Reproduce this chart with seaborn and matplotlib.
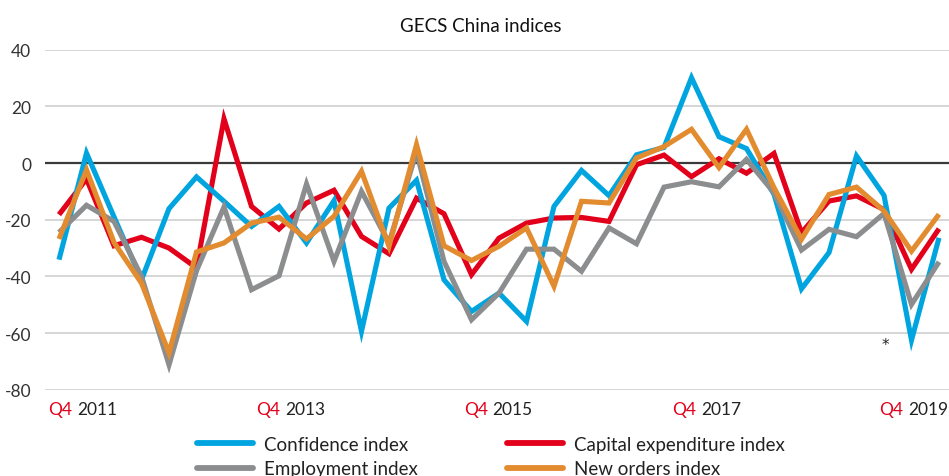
import matplotlib
matplotlib.use("Agg")
import matplotlib.pyplot as plt
import seaborn as sns
import pandas as pd
import numpy as np
from matplotlib.lines import Line2D

# ---------------- data ----------------
quarters = ["Q4 2011",
            "Q1 2012", "Q2 2012", "Q3 2012", "Q4 2012",
            "Q1 2013", "Q2 2013", "Q3 2013", "Q4 2013",
            "Q1 2014", "Q2 2014", "Q3 2014", "Q4 2014",
            "Q1 2015", "Q2 2015", "Q3 2015", "Q4 2015",
            "Q1 2016", "Q2 2016", "Q3 2016", "Q4 2016",
            "Q1 2017", "Q2 2017", "Q3 2017", "Q4 2017",
            "Q1 2018", "Q2 2018", "Q3 2018", "Q4 2018",
            "Q1 2019", "Q2 2019", "Q3 2019", "Q4 2019"]

confidence = [-34.1, 3.5, -19.0, -41.2, -16.1, -4.9, -13.5, -22.4, -15.3, -28.2, -13.3,
              -59.4, -15.9, -6.1, -41.2, -52.4, -45.9, -55.9, -15.3, -2.6, -11.5, 2.9,
              5.5, 30.1, 9.3, 5.1, -11.0, -44.4, -31.6, 2.5, -11.4, -62.5, -26.4]
capex = [-18.2, -5.6, -29.2, -26.2, -30.0, -37.0, 15.6, -15.3, -23.3, -14.1, -9.6,
         -25.9, -32.0, -12.4, -17.9, -39.4, -26.5, -21.2, -19.4, -19.2, -20.6, -0.6,
         2.8, -4.8, 1.5, -3.6, 3.4, -24.6, -13.4, -11.6, -16.4, -37.5, -23.2]
employment = [-24.5, -14.9, -20.6, -40.0, -71.2, -38.0, -15.5, -44.7, -39.8, -7.4, -34.7,
              -10.0, -28.2, 4.0, -34.7, -55.3, -45.9, -30.4, -30.4, -38.2, -22.9, -28.5,
              -8.5, -6.6, -8.4, 1.3, -10.5, -30.7, -23.4, -26.0, -17.8, -49.9, -34.9]
new_orders = [-26.8, -2.4, -28.0, -42.4, -67.0, -31.4, -28.2, -21.2, -19.1, -26.8, -18.8,
              -2.9, -29.4, 6.5, -29.2, -34.4, -29.4, -22.9, -43.5, -13.5, -14.1, 1.8,
              5.8, 11.9, -1.6, 11.9, -8.7, -26.9, -11.1, -8.5, -16.9, -31.1, -18.1]

series_names = ["Confidence index", "Capital expenditure index",
                "Employment index", "New orders index"]
series_values = [confidence, capex, employment, new_orders]

xtick_labels = ["Q4 2011", "Q4 2013", "Q4 2015", "Q4 2017", "Q4 2019"]
yticks = [40, 20, 0, -20, -40, -60, -80]

# ---------------- style ----------------
colors = {"Confidence index": "#00A5E0",
          "Capital expenditure index": "#E2001A",
          "Employment index": "#8B8D8F",
          "New orders index": "#E38B2F"}
draw_order = ["Capital expenditure index", "Confidence index",
              "Employment index", "New orders index"]

sns.set_theme(style="white")
plt.rcParams["font.family"] = ["Lato", "DejaVu Sans"]

W, H = 949, 477
fig = plt.figure(figsize=(W / 100, H / 100), dpi=100)
ax_left, ax_right = 45, 949
ax_top, ax_bot = 50.7, 390.7
ax = fig.add_axes([ax_left / W, 1 - ax_bot / H, (ax_right - ax_left) / W, (ax_bot - ax_top) / H])

rows = []
for name, vals in zip(series_names, series_values):
    for i, (q, v) in enumerate(zip(quarters, vals)):
        rows.append({"idx": i, "quarter": q, "series": name, "value": v})
df = pd.DataFrame(rows)

# gridlines
for yv in yticks:
    if yv == 0:
        ax.axhline(0, color="#3a3a3a", lw=1.6, zorder=2)
    else:
        ax.axhline(yv, color="#cfcfcf", lw=1.2, zorder=1)

for k, name in enumerate(draw_order):
    sns.lineplot(data=df[df["series"] == name], x="idx", y="value",
                 color=colors[name], lw=3.7, ax=ax, legend=False,
                 zorder=3 + k, solid_joinstyle="miter", solid_capstyle="butt")

px = 27.5  # pixels per quarter
x0 = 59.0
ax.set_xlim((ax_left - x0) / px, (ax_right - x0) / px)
ax.set_ylim(-80, 40)
ax.set_yticks(yticks)
ax.set_yticklabels([str(t) for t in yticks], color="#333333", fontsize=12.5)
ax.tick_params(axis="y", length=0, pad=10)
ax.set_xticks([])
ax.set_xlabel("")
ax.set_ylabel("")
for s in ax.spines.values():
    s.set_visible(False)

# x labels: red "Q4" + dark year, placed as in reference
year_left_px = [77, 285, 492.7, 701, 908]
trans = ax.get_xaxis_transform()
for lab, lp in zip(xtick_labels, year_left_px):
    q, yr = lab.split(" ")
    xd = (lp - x0) / px
    ax.text(xd - 5 / px, -0.058, q, transform=trans, ha="right", va="center",
            color="#E2001A", fontsize=12.5)
    ax.text(xd, -0.058, yr, transform=trans, ha="left", va="center",
            color="#222222", fontsize=12.5)

# asterisk
ax.text((885.7 - x0) / px, -63.5, "*", ha="center", va="center_baseline",
        fontsize=11, color="#222222", family="DejaVu Sans")

# title
fig.text(480.5 / W, 1 - 26 / H, "GECS China indices", ha="center", va="center",
         fontsize=13.5, color="#111111")

# legend
order = ["Confidence index", "Employment index", "Capital expenditure index", "New orders index"]
handles = [Line2D([0], [0], color=colors[n], lw=4.2) for n in order]
leg = fig.legend(handles, order, loc="upper left", ncol=2,
                 bbox_to_anchor=(197 / W, 1 - 437 / H), frameon=False,
                 fontsize=13.5, handlelength=3.0, handletextpad=0.6,
                 columnspacing=4.7, labelspacing=0.38, borderaxespad=0, borderpad=0)
for t in leg.get_texts():
    t.set_color("#222222")

fig.savefig("out.png", dpi=100)
